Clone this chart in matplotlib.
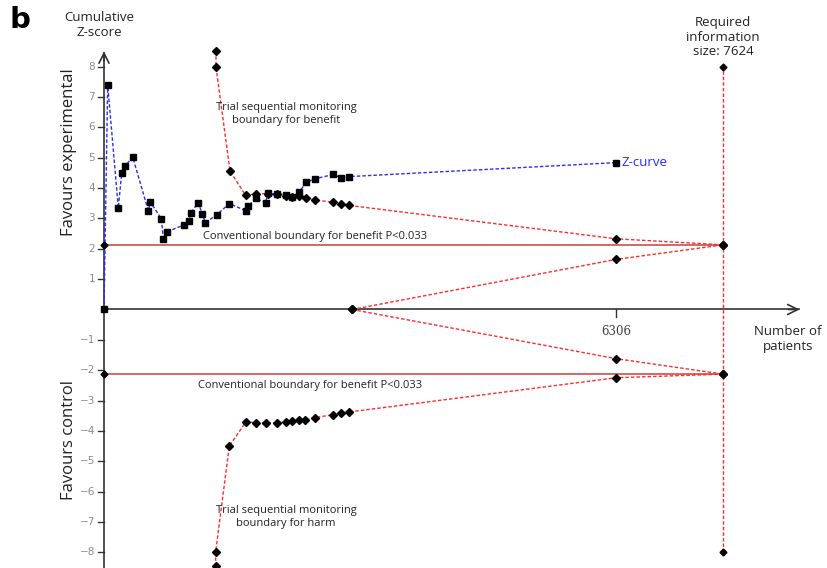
import matplotlib.pyplot as plt
import numpy as np

plt.rcParams['font.family'] = ['Open Sans', 'DejaVu Sans']

# cumulative Z-curve
z_patients = [0, 45, 176, 218, 263, 353, 546, 571, 706, 731, 772, 989, 1043, 1068,
              1158, 1211, 1248, 1388, 1543, 1749, 1777, 1872, 1991, 2016, 2134, 2241,
              2315, 2405, 2488, 2603, 2824, 2915, 3021, 6306]
z_score = [0, 7.41, 3.35, 4.49, 4.73, 5.03, 3.25, 3.54, 2.99, 2.33, 2.56, 2.79, 2.92, 3.17,
           3.52, 3.16, 2.86, 3.12, 3.49, 3.25, 3.41, 3.66, 3.52, 3.83, 3.80, 3.76,
           3.70, 3.86, 4.19, 4.31, 4.45, 4.34, 4.38, 4.84]

# trial sequential monitoring boundaries
benefit_patients = [1379, 1379, 1552, 1745, 1876, 2020, 2134, 2241, 2315, 2405, 2488,
                    2603, 2824, 2918, 3021, 6306, 7624]
benefit_z = [8.53, 8.0, 4.56, 3.76, 3.81, 3.82, 3.80, 3.75, 3.72, 3.74, 3.67,
             3.61, 3.53, 3.48, 3.43, 2.33, 2.13]
harm_patients = [1375, 1375, 1543, 1749, 1872, 1991, 2127, 2238, 2315, 2398, 2480,
                 2599, 2820, 2915, 3013, 6306, 7624]
harm_z = [-8.47, -7.99, -4.50, -3.70, -3.73, -3.73, -3.74, -3.70, -3.66, -3.65, -3.64,
          -3.56, -3.47, -3.42, -3.38, -2.25, -2.13]

# inner wedge
wedge_patients = [3054, 6306, 7624]
wedge_upper = [0, 1.65, 2.13]
wedge_lower = [0, -1.62, -2.13]

conventional_z = 2.13
ris = 7624
y_ticks = [-8, -7, -6, -5, -4, -3, -2, -1, 1, 2, 3, 4, 5, 6, 7, 8]

fig = plt.figure(figsize=(8.27, 5.68), dpi=100)
ax = fig.add_axes([0, 0, 1, 1])
ax.set_xlim(-1281, 8904)
ax.set_ylim(-8.52, 10.20)

red = '#ff2a2a'
blue = '#2a2aff'
conv_red = '#c8403a'
dash = (0, (2.5, 1.5))

# conventional boundaries
for s in (1, -1):
    ax.plot([0, ris], [s * conventional_z] * 2, color=conv_red, lw=1.1, zorder=2)
    ax.plot([0], [s * conventional_z], 'D', color='black', ms=3.5, zorder=5)

# required information size
ax.plot([ris, ris], [-8, 8], color=red, ls=dash, lw=1, zorder=2,
        marker='D', mfc='black', mec='black', ms=3.5)

# monitoring boundaries
for xs, ys in ((benefit_patients, benefit_z), (harm_patients, harm_z),
               (wedge_patients, wedge_upper), (wedge_patients, wedge_lower)):
    ax.plot(xs, ys, color=red, ls=dash, lw=1,
            marker='D', mfc='black', mec='black', ms=3.8, zorder=3)

# Z-curve
ax.plot(z_patients, z_score, color=blue, ls=dash, lw=1,
        marker='s', mfc='black', mec='black', ms=3.8, zorder=4)

ax.axis('off')

# axes drawn as arrows
ax.plot([0, 8560], [0, 0], color='#333333', lw=1.2, zorder=1)
ax.plot([0, 0], [-8.6, 8.45], color='#333333', lw=1.2, zorder=1)
ax.annotate('', xy=(8600, 0), xytext=(8400, 0),
            arrowprops=dict(arrowstyle='->', color='#333333', lw=1.2, mutation_scale=18))
ax.annotate('', xy=(0, 8.6), xytext=(0, 8.1),
            arrowprops=dict(arrowstyle='->', color='#333333', lw=1.2, mutation_scale=18))

# y ticks
for t in y_ticks:
    ax.plot([-75, 0], [t, t], color='#333333', lw=1)
    ax.text(-110, t, str(t).replace('-', '\u2212'), ha='right', va='center',
            fontsize=7.5, color='#8a8a8a', family='DejaVu Sans')

# x tick
ax.plot([6306, 6306], [0, -0.25], color='#333333', lw=1)
ax.text(6306, -0.52, '6306', ha='center', va='top', fontsize=8.5, color='#444444',
        family='DejaVu Serif')

fig.text(0.012, 0.99, 'b', fontsize=21, fontweight='bold', va='top', ha='left',
         family='DejaVu Sans')
ax.text(-60, 9.37, 'Cumulative\nZ-score', ha='center', va='center', fontsize=9.5,
        color='#222222', linespacing=1.15)
ax.text(ris, 8.98, 'Required\ninformation\nsize: 7624', ha='center', va='center',
        fontsize=9.5, color='#222222', linespacing=1.15)
ax.text(8420, -0.97, 'Number of\npatients', ha='center', va='center', fontsize=9.5,
        color='#222222', linespacing=1.15)
ax.text(-430, 5.2, 'Favours experimental', rotation=90, ha='center', va='center',
        fontsize=12, color='#222222')
ax.text(-430, -4.3, 'Favours control', rotation=90, ha='center', va='center',
        fontsize=12, color='#222222')
ax.text(6370, 4.84, 'Z-curve', ha='left', va='center', fontsize=9.5, color=blue)
ax.text(2240, 6.45, 'Trial sequential monitoring\nboundary for benefit', ha='center',
        va='center', fontsize=8, color='#222222', linespacing=1.3)
ax.text(2240, -6.84, 'Trial sequential monitoring\nboundary for harm', ha='center',
        va='center', fontsize=8, color='#222222', linespacing=1.3)
ax.text(2598, 2.42, 'Conventional boundary for benefit P<0.033', ha='center',
        va='center', fontsize=8, color='#222222')
ax.text(2537, -2.49, 'Conventional boundary for benefit P<0.033', ha='center',
        va='center', fontsize=8, color='#222222')

fig.savefig('out.png', dpi=100)
